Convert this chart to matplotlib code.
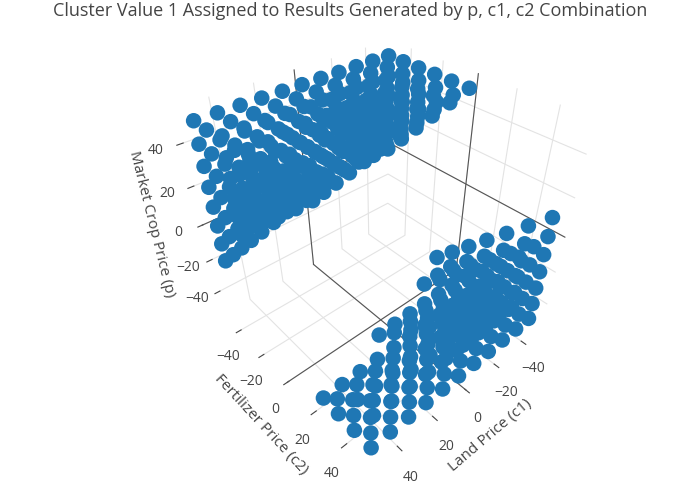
import numpy as np
import matplotlib
matplotlib.use("Agg")
import matplotlib.pyplot as plt

# grid values of the three prices
p_levels = [50, 40, 30, 20, 10, 0, -10, -20, -30, -40, -50]
c1_levels = [-50, -40, -30, -20, -10, 0, 10, 20, 30, 40, 50]

# upper block: for each p (row) and c1 (column) the largest c2 in the cluster
# (c2 runs from -50 up to this value); None = no point
N = None
upper_c2_max = [
    [0, 0, 0, 0, 0, 10, 10, 10, 10, 10, 20],
    [-10, -10, -10, -10, -10, 0, 0, 0, 0, 0, 10],
    [-20, -20, -20, -20, -20, -10, -10, -10, -10, -10, 0],
    [-30, -30, -30, -30, -30, -20, -20, -20, -20, -20, -10],
    [-40, -40, -40, -40, -40, -30, -30, -30, -30, -30, -20],
    [-50, -50, -50, -50, -50, -40, -40, -40, -40, -40, -30],
    [N, N, N, N, N, -50, -50, -50, -50, -50, -40],
    [N, N, N, N, N, N, N, N, N, N, -50],
    [N] * 11,
    [N] * 11,
    [N] * 11,
]
# lower block: smallest c2 in the cluster (c2 runs from this value up to 50)
lower_c2_min = [
    [N] * 11,
    [N] * 11,
    [N] * 11,
    [N] * 11,
    [50, N, N, N, N, N, N, N, N, N, N],
    [40, 50, 50, N, N, N, N, N, N, N, N],
    [30, 40, 40, 50, 50, 50, 50, N, N, N, N],
    [20, 30, 30, 40, 40, 40, 40, 50, 50, 50, 50],
    [10, 20, 20, 30, 30, 30, 30, 40, 40, 40, 40],
    [0, 10, 10, 20, 20, 20, 20, 30, 30, 30, 30],
    [-10, 0, 0, 10, 10, 10, 10, 20, 20, 20, 20],
]

p, c1, c2 = [], [], []
for i, pv in enumerate(p_levels):
    for j, cv in enumerate(c1_levels):
        hi = upper_c2_max[i][j]
        if hi is not None:
            for v in range(-50, hi + 1, 10):
                p.append(pv); c1.append(cv); c2.append(v)
        lo = lower_c2_min[i][j]
        if lo is not None:
            for v in range(lo, 51, 10):
                p.append(pv); c1.append(cv); c2.append(v)

ticks = [-40, -20, 0, 20, 40]
lim = (-55, 55)

plt.rcParams['font.family'] = ['Open Sans', 'DejaVu Sans']
fig = plt.figure(figsize=(7, 5), dpi=100)
ax = fig.add_axes([0.035, 0.06, 1.0, 0.93], projection='3d')
ax.set_proj_type('persp', focal_length=0.22)
ax.set_box_aspect((1, 1, 1.0), zoom=0.93)
ax.computed_zorder = False

# zero lines on the back walls and the floor
zl = dict(color='#555555', lw=0.8, zorder=1)
ax.plot([0, 0], [lim[0], lim[0]], lim, **zl)
ax.plot([lim[0], lim[0]], [0, 0], lim, **zl)
ax.plot([0, 0], lim, [lim[0], lim[0]], **zl)
ax.plot(lim, [0, 0], [lim[0], lim[0]], **zl)
ax.plot(lim, [lim[0], lim[0]], [0, 0], **zl)
ax.plot([lim[0], lim[0]], lim, [0, 0], **zl)

ax.scatter(c1, c2, p, s=125, c='#1f77b4', depthshade=False, edgecolors='none', alpha=1, zorder=2)
ax.view_init(elev=38, azim=48)
ax.set_xlim(*lim); ax.set_ylim(*lim); ax.set_zlim(*lim)
ax.set_xticks(ticks); ax.set_yticks(ticks); ax.set_zticks(ticks)
ax.set_xlabel('Land Price (c1)', color='#444', fontsize=11)
ax.set_ylabel('Fertilizer Price (c2)', color='#444', fontsize=11)
ax.set_zlabel('Market Crop Price (p)', color='#444', fontsize=11)
for a in (ax.xaxis, ax.yaxis, ax.zaxis):
    a.set_pane_color((1, 1, 1, 0))
    a._axinfo['grid']['color'] = '#e3e3e3'
    a._axinfo['grid']['linewidth'] = 0.8
    a.line.set_color('#ffffff00')
ax.tick_params(colors='#444', labelsize=10)
fig.suptitle('Cluster Value 1 Assigned to Results Generated by p, c1, c2 Combination', y=0.995, fontsize=13, color='#444')
fig.savefig('out.png', dpi=100)
